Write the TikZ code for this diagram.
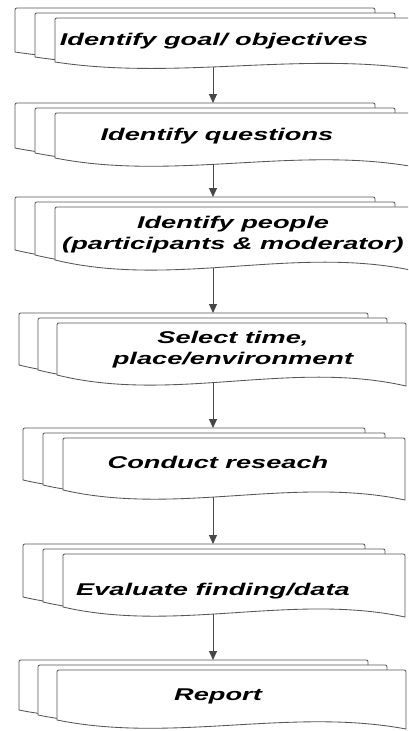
\documentclass[tikz,border=0pt]{standalone}
\usepackage{fontspec}
\usepackage{graphicx}
\setsansfont{Liberation Sans}
\usetikzlibrary{arrows.meta}
\tikzset{
  docline/.style={draw=black!66, line width=0.85pt, fill=white},
  flowarrow/.style={draw=black!72, line width=0.9pt, -{Triangle[width=8pt,length=9pt]}},
  lbl/.style={font=\sffamily\bfseries\itshape\fontsize{17}{21}\selectfont, inner sep=0pt, anchor=base}
}
% #1 name, #2 left, #3 top, #4 width, #5 left-edge height, #6 wave amplitude, #7 x offset
\newcommand\mdoc[7]{%
  \foreach \k in {0,1,2}{%
    \pgfmathsetmacro\LL{#2+\k*#7}%
    \pgfmathsetmacro\TT{#3+\k*5}%
    \pgfmathsetmacro\RR{\LL+#4}%
    \pgfmathsetmacro\BB{\TT+#5}%
    \pgfmathsetmacro\BR{\BB+#6}%
    \pgfmathsetmacro\CA{\LL+0.67*#4}%
    \pgfmathsetmacro\CB{\LL+0.33*#4}%
    \pgfmathsetmacro\YA{\BB-1.4*#6}%
    \pgfmathsetmacro\YB{\BB+2.6*#6}%
    \path[docline] (\LL,\BB) -- (\LL,\TT+4) .. controls (\LL,\TT) .. (\LL+4,\TT)
      -- (\RR-4,\TT) .. controls (\RR,\TT) .. (\RR,\TT+4) -- (\RR,\BR)
      .. controls (\CA,\YA) and (\CB,\YB) .. (\LL,\BB) -- cycle;
  }%
  \coordinate (#1-top) at (213,#3);
  \pgfmathsetmacro\tpar{(213-(#2+2*#7))/#4}%
  \pgfmathsetmacro\ffv{3*(1-\tpar)^2*\tpar*2.6 - 3*(1-\tpar)*\tpar^2*1.4 + \tpar^3}%
  \coordinate (#1-bot) at (213,#3+10+#5+\ffv*#6);
}
\begin{document}
\begin{tikzpicture}[x=1pt,y=-1pt]
\useasboundingbox (0,0) rectangle (408,731);
\fill[white] (0,0) rectangle (408,731);
\clip (0,0) rectangle (408,731);

\mdoc{d1}{15}{8}{360}{44}{7}{20}
\mdoc{d2}{15}{103}{360}{45}{9}{20}
\mdoc{d3}{15}{197}{360}{53}{11}{20}
\mdoc{d4}{19}{313}{349}{52}{11}{19}
\mdoc{d5}{23}{428}{342}{52}{10}{20}
\mdoc{d6}{23}{544}{342}{53}{10}{20}
\mdoc{d7}{19}{660}{349}{50}{9}{19}

\node[lbl] (t1) at (214,45) {\scalebox{1.6}[1]{Identify goal/ objectives}};
\node[lbl] (t2) at (217,140) {\scalebox{1.6}[1]{Identify questions}};
\node[lbl] (t3) at (233,228) {\scalebox{1.6}[1]{\begin{tabular}[t]{@{}c@{}}Identify people\\(participants \& moderator)\end{tabular}}};
\node[lbl] (t4) at (233,343) {\scalebox{1.6}[1]{\begin{tabular}[t]{@{}c@{}}Select time,\\place/environment\end{tabular}}};
\node[lbl] (t5) at (218,468) {\scalebox{1.6}[1]{Conduct reseach}};
\node[lbl] (t6) at (213,595) {\scalebox{1.6}[1]{Evaluate finding/data}};
\node[lbl] (t7) at (218,700) {\scalebox{1.6}[1]{Report}};

\draw[flowarrow] (d1-bot) -- (d2-top);
\draw[flowarrow] (d2-bot) -- (d3-top);
\draw[flowarrow] (d3-bot) -- (d4-top);
\draw[flowarrow] (d4-bot) -- (d5-top);
\draw[flowarrow] (d5-bot) -- (d6-top);
\draw[flowarrow] (d6-bot) -- (d7-top);
\end{tikzpicture}
\end{document}
